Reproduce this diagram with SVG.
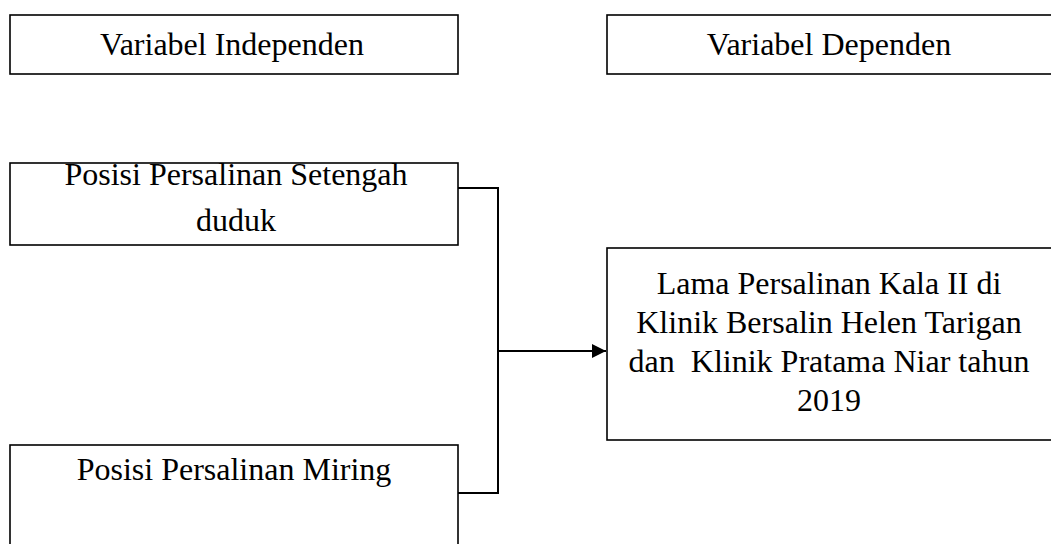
<svg xmlns="http://www.w3.org/2000/svg" width="1051" height="544" viewBox="0 0 1051 544">
<style>
.box{fill:#fff;stroke:#000;stroke-width:1.6}
.t{font-family:"Liberation Serif","Times New Roman",serif;font-size:32px;fill:#000;text-anchor:middle}
.c{fill:none;stroke:#000;stroke-width:2}
</style>
<defs>
<marker id="ah" viewBox="0 0 10 10" refX="10" refY="5" markerWidth="14" markerHeight="14" markerUnits="userSpaceOnUse" orient="auto">
<path d="M0,0 L10,5 L0,10 z" fill="#000"/>
</marker>
</defs>
<rect width="1051" height="544" fill="#fff"/>
<g id="n-independen"><rect class="box" x="10" y="15" width="448" height="59"/><text class="t" x="232" y="55">Variabel Independen</text></g>
<g id="n-dependen"><rect class="box" x="607" y="15" width="450" height="59"/><text class="t" x="829" y="55">Variabel Dependen</text></g>
<g id="n-setengah"><rect class="box" x="10" y="163" width="448" height="82"/><text class="t" x="236" y="185">Posisi Persalinan Setengah</text><text class="t" x="236" y="231">duduk</text></g>
<g id="n-miring"><rect class="box" x="10" y="445" width="448" height="110"/><text class="t" x="234" y="480">Posisi Persalinan Miring</text></g>
<g id="n-lama"><rect class="box" x="607" y="248" width="450" height="192"/>
<text class="t" x="829" y="294">Lama Persalinan Kala II di</text>
<text class="t" x="829" y="333">Klinik Bersalin Helen Tarigan</text>
<text class="t" x="829" y="372" xml:space="preserve">dan  Klinik Pratama Niar tahun</text>
<text class="t" x="829" y="411">2019</text></g>
<g id="connectors">
<path class="c" d="M458,188 H498 V493 H458"/>
<path class="c" d="M498,351 H606" marker-end="url(#ah)"/>
</g>
</svg>
